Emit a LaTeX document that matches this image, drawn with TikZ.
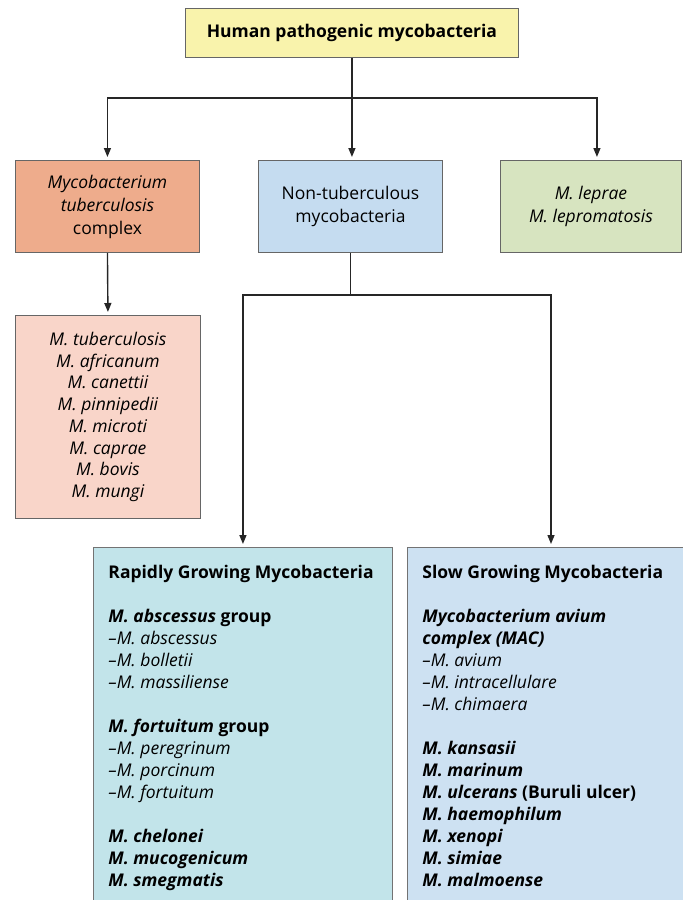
\documentclass[tikz,border=0pt]{standalone}
\usepackage{fontspec}
\setmainfont{Open Sans}
\usetikzlibrary{arrows.meta,positioning}
\definecolor{titleyellow}{RGB}{249,243,172}
\definecolor{mtbcorange}{RGB}{238,172,140}
\definecolor{ntmblue}{RGB}{197,220,240}
\definecolor{lepraegreen}{RGB}{215,228,192}
\definecolor{listpink}{RGB}{249,213,201}
\definecolor{rapidcyan}{RGB}{194,228,234}
\definecolor{slowblue}{RGB}{205,225,242}

\begin{document}
\begin{tikzpicture}[x=1pt, y=-1pt,
  font=\fontsize{17.5}{22}\selectfont,
  box/.style={draw=black!60, line width=0.9pt, inner sep=0pt, align=center, anchor=north west},
  midbox/.style={box, minimum width=184pt, minimum height=92pt, font=\fontsize{17.5}{23}\selectfont},
  bigbox/.style={draw=black!55, line width=0.9pt, anchor=north west, inner xsep=15pt, inner ysep=18pt},
  link/.style={line width=1.4pt, black!85},
  arr/.style={link, shorten >=3pt, -{Triangle[length=9pt, width=7pt]}}]
  \clip (0,0) rectangle (683,900);

  % top and middle row
  \node[box, fill=titleyellow, minimum width=333pt, minimum height=49pt,
        font=\fontsize{17.5}{20}\selectfont\bfseries] (human) at (185,8) {Human pathogenic mycobacteria};
  \node[midbox, fill=mtbcorange] (mtbc) at (15,160) {\textit{Mycobacterium}\\\textit{tuberculosis}\\complex};
  \node[midbox, fill=ntmblue] (ntm) at (258,160) {Non-tuberculous\\mycobacteria};
  \node[midbox, fill=lepraegreen, minimum width=181pt] (leprae) at (500,160) {\textit{M. leprae}\\\textit{M. lepromatosis}};

  % tuberculosis complex members
  \node[box, fill=listpink, minimum width=185pt, minimum height=203pt,
        font=\itshape\fontsize{17.5}{21.7}\selectfont] (mtbclist) at (15,315)
       {M. tuberculosis\\M. africanum\\M. canettii\\M. pinnipedii\\M. microti\\M. caprae\\M. bovis\\M. mungi};

  % growth groups
  \node[bigbox, fill=rapidcyan] (rgm) at (93,547) {\parbox[t][380pt][t]{269pt}{%
    \textbf{Rapidly Growing Mycobacteria}\\[22pt]
    \textbf{\textit{M. abscessus} group}\\
    \textit{--M. abscessus}\\
    \textit{--M. bolletii}\\
    \textit{--M. massiliense}\\[22pt]
    \textbf{\textit{M. fortuitum} group}\\
    \textit{--M. peregrinum}\\
    \textit{--M. porcinum}\\
    \textit{--M. fortuitum}\\[22pt]
    \textbf{\textit{M. chelonei}}\\
    \textbf{\textit{M. mucogenicum}}\\
    \textbf{\textit{M. smegmatis}}}};
  \node[bigbox, fill=slowblue] (sgm) at (407,547) {\parbox[t][380pt][t]{269pt}{%
    \textbf{Slow Growing Mycobacteria}\\[22pt]
    \textbf{\textit{Mycobacterium avium}}\\
    \textbf{\textit{complex (MAC)}}\\
    \textit{--M. avium}\\
    \textit{--M. intracellulare}\\
    \textit{--M. chimaera}\\[22pt]
    \textbf{\textit{M. kansasii}}\\
    \textbf{\textit{M. marinum}}\\
    \textbf{\textit{M. ulcerans} (Buruli ulcer)}\\
    \textbf{\textit{M. haemophilum}}\\
    \textbf{\textit{M. xenopi}}\\
    \textbf{\textit{M. simiae}}\\
    \textbf{\textit{M. malmoense}}}};

  % connectors
  \coordinate (topbar) at (human.south |- 0,98);
  \coordinate (ntmbar) at (ntm.south |- 0,295);
  \draw[link] (human.south) -- (topbar);
  \draw[arr] (topbar) -- (topbar |- ntm.north);
  \draw[arr] (topbar) -| (mtbc.north);
  \draw[arr] (topbar) -| ([xshift=6pt]leprae.north);
  \draw[arr] (mtbc.south) -- (mtbclist.north);
  \draw[link] (ntm.south) -- (ntmbar);
  \draw[arr] (ntmbar) -| (rgm.north);
  \draw[arr] (ntmbar) -| ([xshift=144pt]sgm.north west);
\end{tikzpicture}
\end{document}
